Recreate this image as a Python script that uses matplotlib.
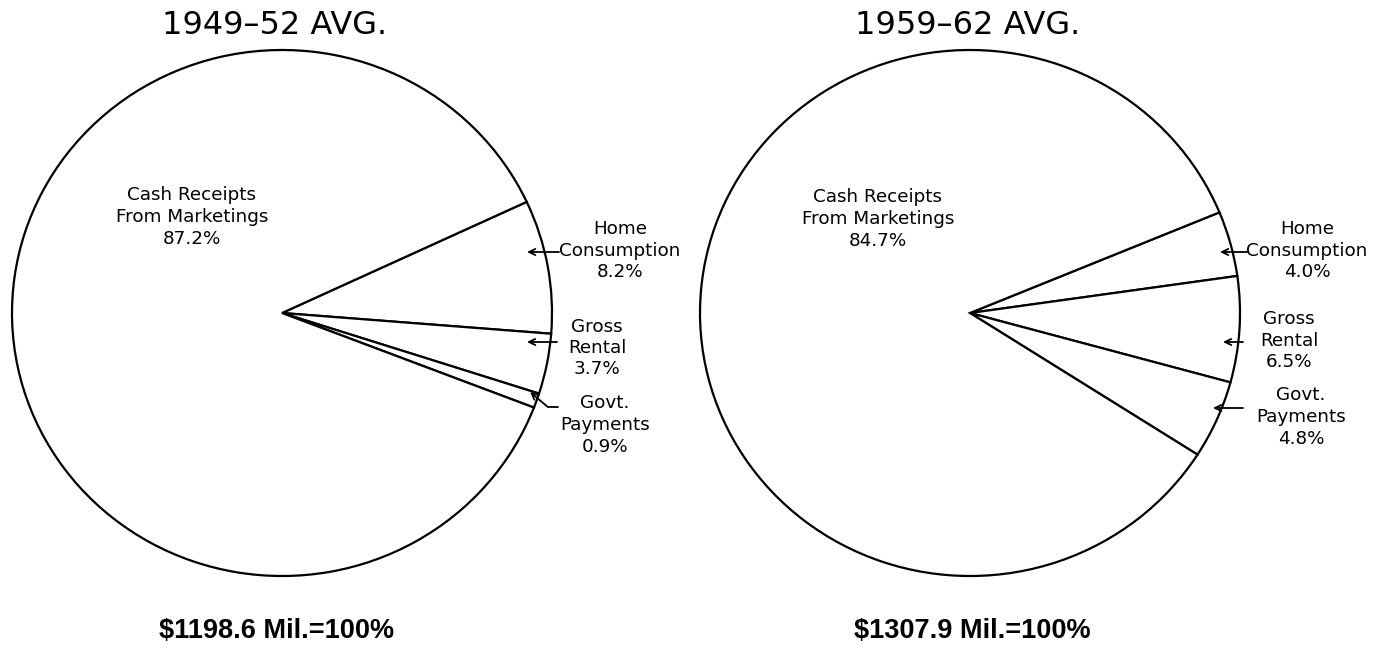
import matplotlib
matplotlib.use("Agg")
import matplotlib.pyplot as plt

# data
titles = ["1949\u201352 AVG.", "1959\u201362 AVG."]
totals = ["$1198.6 Mil.=100%", "$1307.9 Mil.=100%"]
categories = ["Home\nConsumption", "Gross\nRental", "Govt.\nPayments", "Cash Receipts\nFrom Marketings"]
shares_1950 = [8.2, 3.7, 0.9, 87.2]
shares_1960 = [4.0, 6.5, 4.8, 84.7]

W, H = 1382, 649
K = 270 / 263  # the scanned circles are a little wider than tall


def Y(y):
    return (H - y) * K


fig = plt.figure(figsize=(13.82, 6.49), dpi=100)
ax = fig.add_axes([0, 0, 1, 1])

# label block centre, arrow tail, arrow head (pixels from top-left)
pies = [
    dict(vals=shares_1950, cx=282, start=25, title_x=275, total_x=277,
         cash=(192, 217),
         small=[((620, 251), (559, 252), (527, 252), None),
                ((597, 348), (557, 342), (527, 342), None),
                ((605, 425), (558, 407), (530, 392), -40)]),
    dict(vals=shares_1960, cx=970, start=22.5, title_x=968, total_x=972,
         cash=(878, 219),
         small=[((1307, 251), (1248, 252), (1220, 252), None),
                ((1289, 341), (1243, 342), (1223, 342), None),
                ((1301, 417), (1243, 408), (1213, 408), None)]),
]

lab_font = dict(fontsize=13.2, family="DejaVu Sans", linespacing=1.25)

for p, title, total in zip(pies, titles, totals):
    ax.pie(p["vals"], center=(p["cx"], Y(313)), radius=270, startangle=p["start"],
           counterclock=False, colors=["white"] * 4,
           wedgeprops=dict(edgecolor="black", linewidth=1.6))
    ax.text(p["title_x"], Y(25), title, ha="center", va="center", fontsize=23)
    ax.text(p["total_x"], Y(631), total, ha="center", va="center",
            fontsize=19.5, fontweight="bold",
            family=["Liberation Sans", "DejaVu Sans"])
    cx, cy = p["cash"]
    ax.text(cx, Y(cy), f"{categories[3]}\n{p['vals'][3]:.1f}%", ha="center",
            va="center", **lab_font)
    for (lab, tail, head, bend), name, v in zip(p["small"], categories[:3], p["vals"][:3]):
        ax.text(lab[0], Y(lab[1]), f"{name}\n{v:.1f}%", ha="center", va="center",
                **lab_font)
        cs = "arc3" if bend is None else f"angle,angleA=0,angleB={bend},rad=0"
        ax.annotate("", xy=(head[0], Y(head[1])), xytext=(tail[0], Y(tail[1])),
                    arrowprops=dict(arrowstyle="->,head_length=0.45,head_width=0.22",
                                    color="black", lw=1.3, connectionstyle=cs,
                                    shrinkA=0, shrinkB=0))

ax.set_xlim(0, W)
ax.set_ylim(0, H * K)
ax.set_aspect("auto")
ax.axis("off")

fig.savefig("out.png", dpi=100, facecolor="white")
